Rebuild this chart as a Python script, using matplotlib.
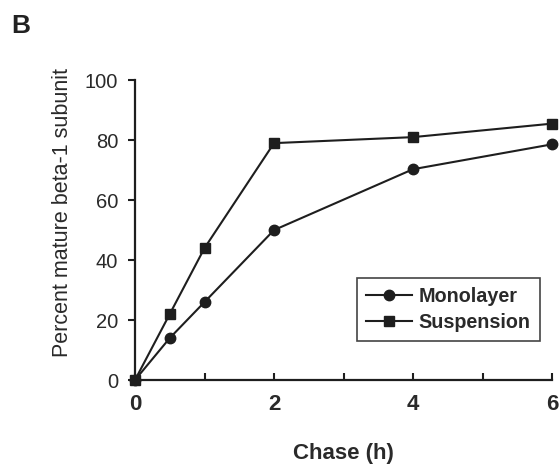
import matplotlib.pyplot as plt
import numpy as np

plt.rcParams['font.family'] = ['Liberation Sans', 'DejaVu Sans']

hours = [0, 0.5, 1, 2, 4, 6]
monolayer = [0, 14, 26, 50, 70.3, 78.6]
suspension = [0, 22, 44, 79, 81, 85.5]

fig = plt.figure(figsize=(5.59, 4.66), dpi=100)
ax = fig.add_axes([0.2415, 0.1845, 0.746, 0.6435])

ink = '#1e1e1e'
ax.plot(hours, monolayer, '-o', color=ink, lw=1.5, ms=7.5, label='Monolayer', clip_on=False, zorder=3)
ax.plot(hours, suspension, '-s', color=ink, lw=1.5, ms=7.5, label='Suspension', clip_on=False, zorder=3)

ax.set_xlim(0, 6)
ax.set_ylim(0, 100)
ax.set_xticks([0, 2, 4, 6])
ax.set_xticks([1, 3, 5], minor=True)
ax.set_yticks(np.arange(0, 101, 20))
for s in ['top', 'right']:
    ax.spines[s].set_visible(False)
for s in ['left', 'bottom']:
    ax.spines[s].set_linewidth(1.6)
    ax.spines[s].set_color(ink)
ax.tick_params(axis='x', which='both', direction='in', length=5, width=1.5, color=ink, pad=10,
               labelsize=16)
ax.tick_params(axis='y', direction='out', length=5, width=1.5, color=ink, labelsize=14.5, pad=7)
for lab in ax.get_xticklabels():
    lab.set_fontweight('bold')
    lab.set_color('#2a2a2a')
for lab in ax.get_yticklabels():
    lab.set_color('#2a2a2a')

ax.set_xlabel('Chase (h)', fontsize=16, fontweight='bold', color='#2a2a2a', labelpad=20)
ax.set_ylabel('Percent mature beta-1 subunit', fontsize=15.5, color='#2a2a2a')
ax.yaxis.set_label_coords(-0.148, 0.56)

leg = ax.legend(loc='lower right', bbox_to_anchor=(0.97, 0.13), borderaxespad=0,
                fancybox=False, framealpha=1, edgecolor='#444444',
                prop={'weight': 'bold', 'size': 14.2},
                handlelength=2.3, borderpad=0.45, labelspacing=0.35, handletextpad=0.35)
leg.get_frame().set_linewidth(1.2)
for t in leg.get_texts():
    t.set_color('#2a2a2a')

fig.text(0.021, 0.93, 'B', fontsize=19, fontweight='bold', color='#222222')

plt.savefig('out.png', dpi=100)
